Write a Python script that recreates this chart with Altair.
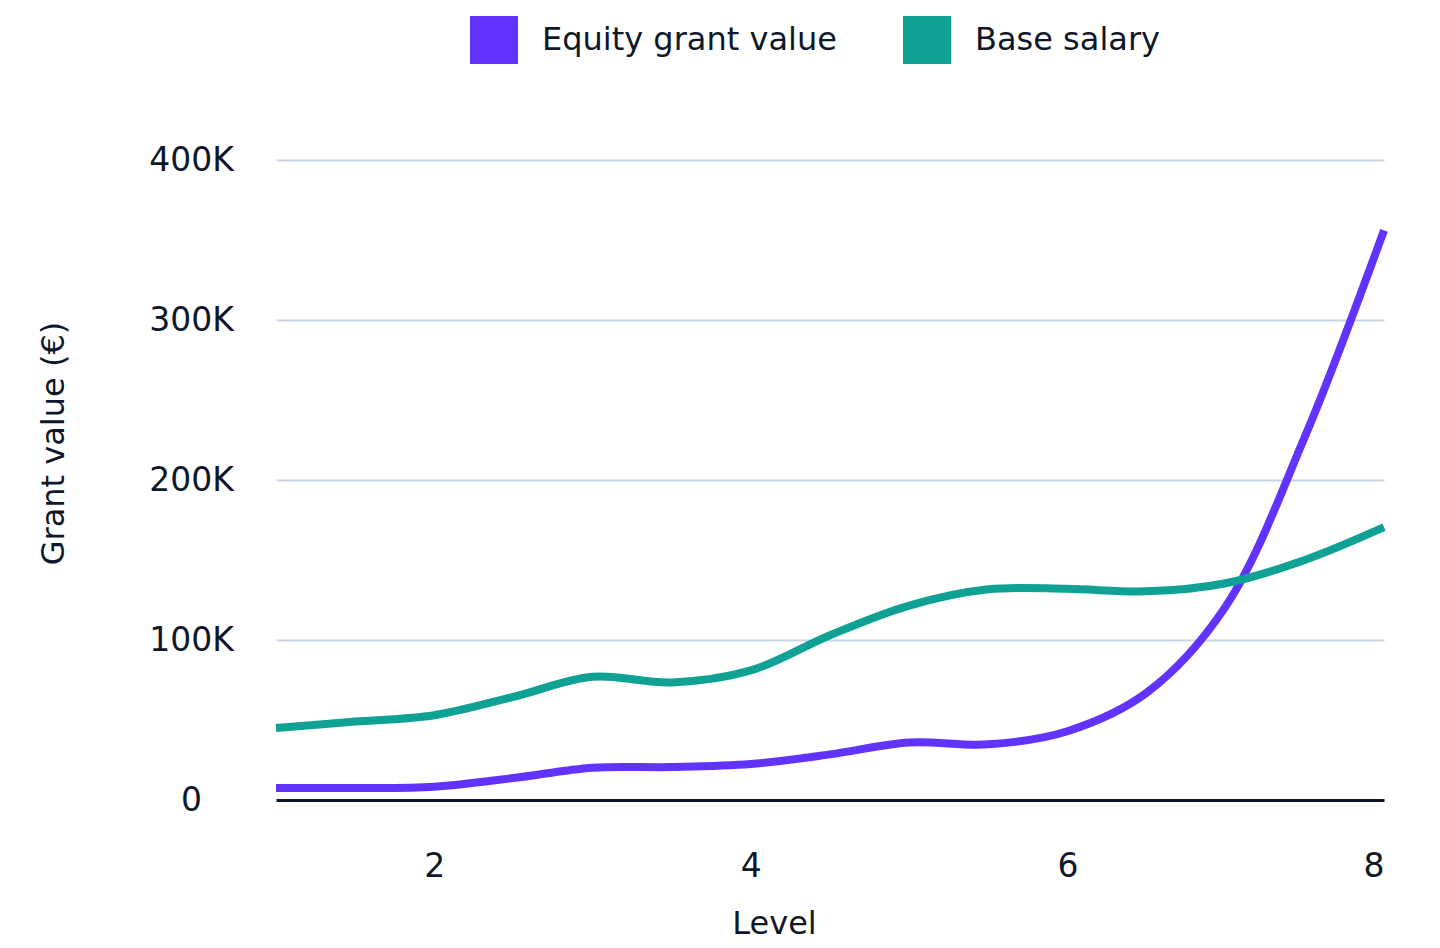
import altair as alt
import pandas as pd

levels = [1, 1.5, 2, 2.5, 3, 3.5, 4, 4.5, 5, 5.5, 6, 6.5, 7, 7.5, 8]
equity = [7500, 7500, 8300, 13700, 20200, 20600, 22500, 28500, 36000, 34800, 43000, 67000, 121000, 227000, 356000]
salary = [45000, 49000, 53000, 64500, 77000, 73500, 81000, 103000, 121500, 131700, 132000, 130400, 135500, 150000, 170500]
series = ["Equity grant value", "Base salary"]
colors = ["#6233ff", "#0fa294"]
y_ticks = [0, 100000, 200000, 300000, 400000]
x_ticks = [2, 4, 6, 8]

df = pd.DataFrame({
    "level": levels + levels,
    "value": equity + salary,
    "series": [series[0]] * len(levels) + [series[1]] * len(levels),
})

TEXT = "#0f172a"
FONT = "DejaVu Sans"

chart = alt.Chart(df).mark_line(interpolate="catmull-rom", strokeWidth=8).encode(
    x=alt.X(
        "level:Q",
        scale=alt.Scale(domain=[1, 8], nice=False, zero=False),
        axis=alt.Axis(
            values=x_ticks, title="Level", grid=False, ticks=False, tickSize=0,
            domain=True, domainColor=TEXT, domainWidth=3,
            labelFont=FONT, labelFontSize=33, labelColor=TEXT,
            labelBaseline="middle", labelPadding=66,
            titleFont=FONT, titleFontSize=32, titleFontWeight="normal", titleColor=TEXT,
            titleX=498, titleY=123, titleBaseline="middle", titleAlign="center",
        ),
    ),
    y=alt.Y(
        "value:Q",
        scale=alt.Scale(domain=[0, 400000], nice=False),
        axis=alt.Axis(
            values=y_ticks,
            labelExpr="datum.value == 0 ? '0' : (datum.value / 1000) + 'K'",
            domain=False, ticks=False, tickSize=0,
            grid=True, gridColor="#cbd5e1", gridWidth=2,
            labelFont=FONT, labelFontSize=33, labelColor=TEXT,
            labelAlign="center", labelPadding=85,
            title="Grant value (€)",
            titleFont=FONT, titleFontSize=32, titleFontWeight="normal", titleColor=TEXT,
            titleX=-223, titleY=283, titleAngle=270, titleBaseline="middle", titleAlign="center",
        ),
    ),
    color=alt.Color(
        "series:N",
        sort=series,
        scale=alt.Scale(domain=series, range=colors),
        legend=alt.Legend(
            title=None, orient="none", legendX=194, legendY=-144, direction="horizontal",
            symbolType="square", symbolSize=16, symbolStrokeWidth=44,
            labelFont=FONT, labelFontSize=32, labelColor=TEXT, labelOffset=24,
            labelLimit=0, columnPadding=0, padding=0,
        ),
    ),
).properties(
    width=1108,
    height=640,
    background="white",
    autosize=alt.AutoSizeParams(type="none"),
    padding={"left": 268, "top": 152, "right": 48, "bottom": 140},
).configure_view(strokeWidth=0, stroke=None)

chart.save("out.html", embed_options={"renderer": "svg", "actions": False})
